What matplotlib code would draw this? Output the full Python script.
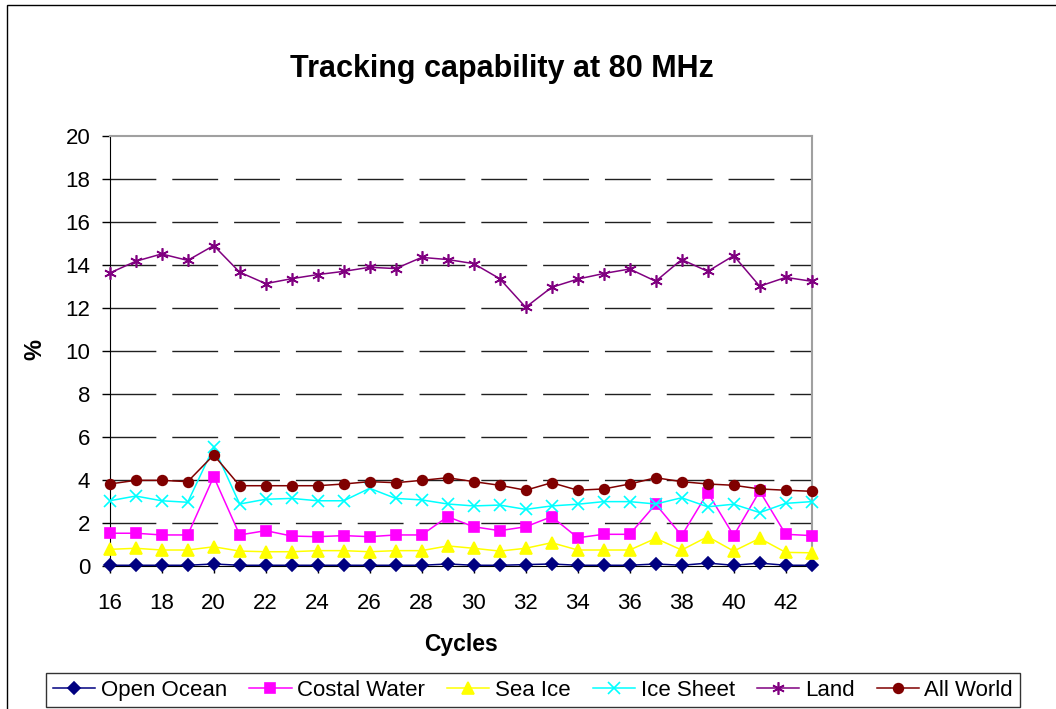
import numpy as np
import matplotlib
matplotlib.use("Agg")
import matplotlib.pyplot as plt
from matplotlib.patches import Rectangle

plt.rcParams['font.family'] = ['Liberation Sans', 'DejaVu Sans']

# data
cycles = list(range(16, 44))

open_ocean = [0.02, 0.02, 0.02, 0.02, 0.08, 0.02, 0.02, 0.02, 0.02, 0.02, 0.02, 0.02, 0.02, 0.08,
              0.02, 0.02, 0.05, 0.08, 0.02, 0.02, 0.02, 0.08, 0.02, 0.12, 0.02, 0.12, 0.02, 0.02]
costal_water = [1.51, 1.51, 1.43, 1.43, 4.14, 1.43, 1.63, 1.38, 1.35, 1.40, 1.35, 1.43, 1.43, 2.28,
                1.81, 1.63, 1.81, 2.28, 1.30, 1.46, 1.46, 2.86, 1.40, 3.40, 1.40, 3.47, 1.46, 1.40]
sea_ice = [0.76, 0.81, 0.73, 0.73, 0.88, 0.68, 0.65, 0.65, 0.70, 0.70, 0.65, 0.70, 0.70, 0.92,
           0.81, 0.68, 0.81, 1.07, 0.73, 0.73, 0.73, 1.27, 0.73, 1.35, 0.68, 1.27, 0.62, 0.60]
ice_sheet = [3.02, 3.24, 3.02, 2.95, 5.51, 2.87, 3.09, 3.13, 3.02, 3.02, 3.60, 3.13, 3.06, 2.87,
             2.78, 2.82, 2.62, 2.78, 2.86, 2.98, 2.98, 2.87, 3.16, 2.74, 2.86, 2.47, 2.90, 2.98]
land = [13.61, 14.16, 14.50, 14.20, 14.89, 13.65, 13.12, 13.35, 13.54, 13.69, 13.88, 13.82, 14.34, 14.24,
        14.05, 13.35, 12.02, 12.95, 13.33, 13.59, 13.80, 13.23, 14.24, 13.69, 14.42, 13.00, 13.41, 13.23]
all_world = [3.80, 3.97, 3.97, 3.91, 5.15, 3.72, 3.72, 3.72, 3.72, 3.80, 3.91, 3.86, 3.97, 4.09,
             3.91, 3.74, 3.51, 3.86, 3.51, 3.57, 3.80, 4.09, 3.91, 3.80, 3.74, 3.57, 3.51, 3.46]

series = [
    ("Open Ocean", open_ocean, "#000080", "D", 6),
    ("Costal Water", costal_water, "#FF00FF", "s", 7),
    ("Sea Ice", sea_ice, "#FFFF00", "^", 8),
    ("Ice Sheet", ice_sheet, "#00FFFF", "x", 8),
    ("Land", land, "#800080", (6, 2, 0), 9),
    ("All World", all_world, "#800000", "o", 7),
]

fig = plt.figure(figsize=(10.56, 7.09), dpi=100)
W, H = 1056.0, 709.0
ax = fig.add_axes([109.7 / W, 1 - 565.7 / H, (811.7 - 109.7) / W, (565.7 - 135.7) / H])

for name, vals, col, mk, ms in series:
    ax.plot(cycles, vals, color=col, marker=mk, markersize=ms, lw=1.1, label=name,
            markeredgecolor=col, markerfacecolor=col, markeredgewidth=1.2, clip_on=False, zorder=3)

ax.set_xlim(16, 43)
ax.set_ylim(0, 20)
ax.set_xticks(range(16, 43, 2))
ax.set_yticks(range(0, 21, 2))
ax.tick_params(axis='both', labelsize=16, direction='out', width=1, color='black')
ax.tick_params(axis='y', length=6, pad=8)
ax.tick_params(axis='x', length=5, pad=15)

for y in range(2, 20, 2):
    ax.axhline(y, color='#202020', lw=1, dashes=(33, 11.5), zorder=1)

ax.spines['top'].set_color('#A0A0A0')
ax.spines['top'].set_linewidth(1.5)
ax.spines['right'].set_color('#A0A0A0')
ax.spines['right'].set_linewidth(1.5)
ax.spines['left'].set_color('black')
ax.spines['bottom'].set_color('black')

fig.text(501.7 / W, 1 - 77 / H, "Tracking capability at 80 MHz", fontsize=22,
         fontweight='bold', ha='center', va='baseline')
fig.text(461 / W, 1 - 644 / H, "Cycles", fontsize=16.5, fontweight='bold',
         ha='center', va='center')
fig.text(35 / W, 1 - 350 / H, "%", fontsize=17, fontweight='bold', rotation=90,
         ha='center', va='center')

# chart area border (partly outside the image)
fig.patches.append(Rectangle((7 / W, -0.2), 1.2, 1.2 - 5 / H, transform=fig.transFigure,
                             fill=False, edgecolor='black', lw=1))

leg = fig.legend(loc='upper center', bbox_to_anchor=(533 / W, 1 - 673 / H), ncol=6,
                 fontsize=16, frameon=True, fancybox=False, edgecolor='black',
                 handlelength=1.9, columnspacing=1.0, handletextpad=0.25, borderpad=0.3,
                 borderaxespad=0)
leg.get_frame().set_linewidth(1)

fig.savefig("out.png", dpi=100)
